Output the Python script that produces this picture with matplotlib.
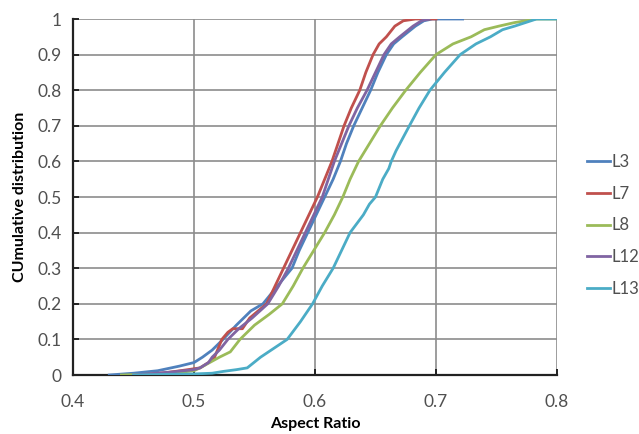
import matplotlib
matplotlib.use("Agg")
import matplotlib.pyplot as plt

plt.rcParams['font.family'] = ['Lato', 'DejaVu Sans']

# curvas (x = aspect ratio, y = distribuicao acumulada)
series = ['L3', 'L7', 'L8', 'L12', 'L13']
cores = ['#4F81BD', '#C0504D', '#9BBB59', '#8064A2', '#4BACC6']

l3_x = [0.43, 0.45, 0.47, 0.488, 0.50, 0.507, 0.515, 0.524, 0.535, 0.547, 0.557,
        0.569, 0.581, 0.587, 0.594, 0.601, 0.608, 0.615, 0.621, 0.626, 0.632,
        0.639, 0.646, 0.652, 0.659, 0.665, 0.672, 0.683, 0.690, 0.697, 0.722]
l3_y = [0.0, 0.005, 0.012, 0.025, 0.035, 0.05, 0.07, 0.10, 0.14, 0.18, 0.20,
        0.25, 0.30, 0.35, 0.40, 0.45, 0.50, 0.55, 0.60, 0.65, 0.70,
        0.75, 0.80, 0.85, 0.90, 0.93, 0.95, 0.98, 0.995, 1.0, 1.0]

l7_x = [0.46, 0.48, 0.495, 0.505, 0.512, 0.517, 0.523, 0.528, 0.532, 0.540,
        0.546, 0.553, 0.560, 0.567, 0.574, 0.581, 0.588, 0.595, 0.602, 0.608,
        0.614, 0.619, 0.624, 0.630, 0.637, 0.642, 0.648, 0.653, 0.659, 0.666,
        0.673, 0.683, 0.70]
l7_y = [0.0, 0.008, 0.015, 0.02, 0.035, 0.05, 0.10, 0.12, 0.13, 0.13,
        0.16, 0.18, 0.20, 0.25, 0.30, 0.35, 0.40, 0.45, 0.50, 0.55,
        0.60, 0.65, 0.70, 0.75, 0.80, 0.85, 0.90, 0.93, 0.95, 0.98,
        0.995, 1.0, 1.0]

l8_x = [0.44, 0.47, 0.49, 0.50, 0.505, 0.513, 0.521, 0.530, 0.538, 0.550,
        0.562, 0.573, 0.582, 0.590, 0.599, 0.608, 0.616, 0.623, 0.629, 0.636,
        0.645, 0.654, 0.664, 0.675, 0.687, 0.700, 0.714, 0.729, 0.740, 0.752,
        0.765, 0.783, 0.80]
l8_y = [0.0, 0.003, 0.008, 0.012, 0.02, 0.035, 0.05, 0.065, 0.10, 0.14,
        0.17, 0.20, 0.25, 0.30, 0.35, 0.40, 0.45, 0.50, 0.55, 0.60,
        0.65, 0.70, 0.75, 0.80, 0.85, 0.90, 0.93, 0.95, 0.97, 0.98,
        0.99, 1.0, 1.0]

l12_x = [0.45, 0.48, 0.50, 0.505, 0.512, 0.515, 0.521, 0.528, 0.537, 0.548,
         0.561, 0.570, 0.578, 0.585, 0.592, 0.599, 0.606, 0.611, 0.616, 0.622,
         0.628, 0.635, 0.643, 0.650, 0.657, 0.663, 0.670, 0.681, 0.688, 0.694]
l12_y = [0.0, 0.008, 0.015, 0.02, 0.035, 0.05, 0.07, 0.10, 0.13, 0.16,
         0.20, 0.25, 0.30, 0.35, 0.40, 0.45, 0.50, 0.55, 0.60, 0.65,
         0.70, 0.75, 0.80, 0.85, 0.90, 0.93, 0.95, 0.98, 0.995, 1.0]

l13_x = [0.45, 0.48, 0.50, 0.515, 0.524, 0.535, 0.544, 0.555, 0.566, 0.577,
         0.588, 0.598, 0.606, 0.615, 0.622, 0.629, 0.640, 0.645, 0.650, 0.656,
         0.661, 0.663, 0.667, 0.678, 0.686, 0.695, 0.707, 0.720, 0.733, 0.745,
         0.755, 0.765, 0.783, 0.80]
l13_y = [0.0, 0.002, 0.003, 0.005, 0.01, 0.015, 0.02, 0.05, 0.075, 0.10,
         0.15, 0.20, 0.25, 0.30, 0.35, 0.40, 0.45, 0.48, 0.50, 0.55,
         0.58, 0.60, 0.63, 0.70, 0.75, 0.80, 0.85, 0.90, 0.93, 0.95,
         0.97, 0.98, 1.0, 1.0]

dados = {'L3': (l3_x, l3_y), 'L7': (l7_x, l7_y), 'L8': (l8_x, l8_y),
         'L12': (l12_x, l12_y), 'L13': (l13_x, l13_y)}

x_ticks = [0.4, 0.5, 0.6, 0.7, 0.8]
y_ticks = [0, 0.1, 0.2, 0.3, 0.4, 0.5, 0.6, 0.7, 0.8, 0.9, 1]
y_labels = ['0', '0.1', '0.2', '0.3', '0.4', '0.5', '0.6', '0.7', '0.8', '0.9', '1']

fig = plt.figure(figsize=(6.39, 4.34), dpi=100)
ax = fig.add_axes([73 / 639, 1 - 375 / 434, 484 / 639, 356 / 434])

for nome, cor in zip(series, cores):
    xs, ys = dados[nome]
    ax.plot(xs, ys, color=cor, lw=2.0, label=nome, zorder=3)

ax.set_xlim(0.4, 0.8)
ax.set_ylim(0, 1)
ax.set_xticks(x_ticks)
ax.set_xticklabels([f'{v:.1f}' for v in x_ticks])
ax.set_yticks(y_ticks)
ax.set_yticklabels(y_labels)

ax.grid(True, color='#8c8c8c', lw=1.2, zorder=0)
ax.set_axisbelow(True)
for lado in ['top', 'right']:
    ax.spines[lado].set_visible(False)
for lado in ['left', 'bottom']:
    ax.spines[lado].set_linewidth(1.6)
    ax.spines[lado].set_color('#222222')

ax.tick_params(axis='both', direction='in', length=4, width=1.4,
               labelsize=12.5, labelcolor='#505050', color='#222222')
ax.tick_params(axis='x', pad=14)
ax.tick_params(axis='y', pad=8)

ax.set_xlabel('Aspect Ratio', fontsize=11.5, fontweight='bold', labelpad=5)
ax.set_ylabel('CUmulative distribution', fontsize=11.5, fontweight='bold', labelpad=8)

leg = ax.legend(loc='center left', bbox_to_anchor=(1.03, 0.42), frameon=False,
                fontsize=12, handlelength=1.4, handletextpad=0.1,
                labelspacing=0.95)
for t in leg.get_texts():
    t.set_color('#505050')

plt.savefig('out.png', dpi=100)
